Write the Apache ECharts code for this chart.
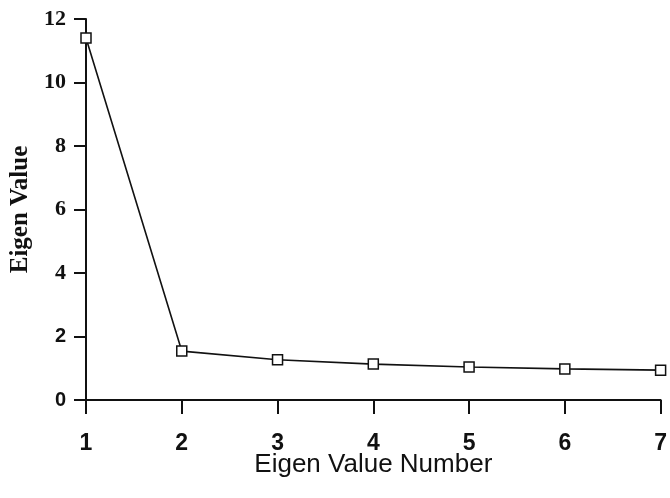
<!DOCTYPE html>
<html><head><meta charset="utf-8">
<script src="https://cdn.jsdelivr.net/npm/echarts@6/dist/echarts.min.js"></script>
<style>html,body{margin:0;padding:0;background:#fff}#c{width:670px;height:498px}</style>
</head><body><div id="c"></div>
<script>
const eigenNumbers = [1, 2, 3, 4, 5, 6, 7];
const eigenValues = [11.4, 1.54, 1.27, 1.13, 1.04, 0.98, 0.94];
const xTitle = 'Eigen Value Number';
const yTitle = 'Eigen Value';

const chart = echarts.init(document.getElementById('c'));
chart.setOption({
  animation: false,
  backgroundColor: '#fff',
  grid: {left: 86, right: 7, top: 19, bottom: 98},
  xAxis: {
    type: 'value', min: 1, max: 7, interval: 1,
    name: xTitle, nameLocation: 'middle', nameGap: 65, nameMoveOverlap: false,
    nameTextStyle: {fontFamily: 'Liberation Sans', fontSize: 26, color: '#111', verticalAlign: 'middle'},
    axisLine: {onZero: false, lineStyle: {color: '#111', width: 2}},
    axisTick: {show: true, inside: false, length: 14, lineStyle: {color: '#111', width: 2}},
    axisLabel: {fontFamily: 'Liberation Sans', fontSize: 23, fontWeight: 'bold', color: '#111', margin: 32},
    splitLine: {show: false}
  },
  yAxis: {
    type: 'value', min: 0, max: 12, interval: 2,
    name: yTitle, nameLocation: 'middle', nameGap: 50, nameRotate: 90,
    nameTextStyle: {fontFamily: 'Liberation Serif', fontSize: 25, fontWeight: 'bold', color: '#111'},
    axisLine: {show: true, lineStyle: {color: '#111', width: 2}},
    axisTick: {show: true, inside: false, length: 12, lineStyle: {color: '#111', width: 2}},
    axisLabel: {
      margin: 20, color: '#111',
      formatter: v => (v <= 2 ? '{s|' + v + '}' : '{t|' + v + '}'),
      rich: {
        s: {fontFamily: 'Liberation Sans', fontSize: 20, fontWeight: 'bold', color: '#111'},
        t: {fontFamily: 'Liberation Serif', fontSize: 22, fontWeight: 'bold', color: '#111'}
      }
    },
    splitLine: {show: false}
  },
  series: [{
    type: 'line',
    data: eigenNumbers.map((x, i) => [x, eigenValues[i]]),
    symbol: 'rect', symbolSize: 10, showAllSymbol: true,
    lineStyle: {color: '#111', width: 1.6},
    itemStyle: {color: '#fff', borderColor: '#111', borderWidth: 1.5},
    clip: false
  }]
});
</script></body></html>
